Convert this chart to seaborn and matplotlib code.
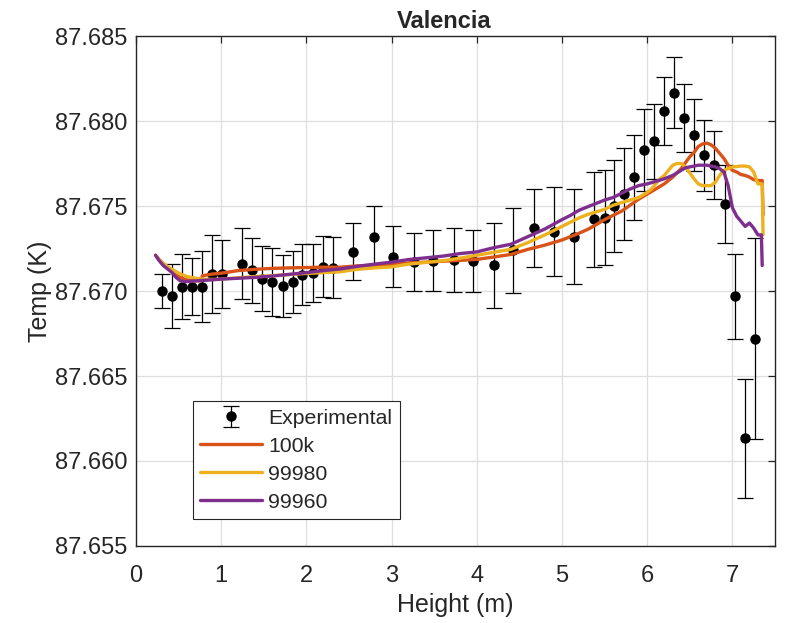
import numpy as np
import pandas as pd
import matplotlib
matplotlib.use("Agg")
import matplotlib.pyplot as plt
import seaborn as sns

# ---- Experimental data ----
exp_x = [0.31, 0.42, 0.54, 0.66, 0.78, 0.89, 1.01, 1.25, 1.36, 1.48, 1.60, 1.72,
         1.84, 1.95, 2.08, 2.20, 2.31, 2.55, 2.79, 3.02, 3.26, 3.49, 3.73, 3.96,
         4.20, 4.43, 4.67, 4.91, 5.14, 5.38, 5.50, 5.61, 5.73, 5.85, 5.96, 6.08,
         6.20, 6.32, 6.43, 6.55, 6.67, 6.78, 6.91, 7.03, 7.15, 7.27]
exp_y = [87.6700, 87.6697, 87.67026, 87.67026, 87.67026, 87.67098, 87.67098, 87.67161,
         87.67122, 87.67073, 87.67053, 87.67030, 87.67053, 87.67095, 87.67105, 87.67142,
         87.67138, 87.67232, 87.67320, 87.67202, 87.67170, 87.67178, 87.67182, 87.67176,
         87.67151, 87.67240, 87.67369, 87.67350, 87.67320, 87.67422, 87.67431, 87.67500,
         87.67572, 87.67670, 87.67830, 87.67880, 87.68059, 87.68167, 87.68018, 87.67918,
         87.67798, 87.67739, 87.67510, 87.66970, 87.66134, 87.66720]
exp_err = [0.0010, 0.0019, 0.0019, 0.0017, 0.0021, 0.0023, 0.0020, 0.0021,
           0.0019, 0.0019, 0.0020, 0.0018, 0.0018, 0.0018, 0.0017, 0.0018,
           0.0018, 0.0017, 0.0018, 0.0018, 0.0017, 0.0018, 0.0019, 0.0018,
           0.0025, 0.0025, 0.0023, 0.0026, 0.0028, 0.0028, 0.0028, 0.0027,
           0.0027, 0.0025, 0.0024, 0.0022, 0.0020, 0.0021, 0.0020, 0.0021,
           0.0021, 0.0020, 0.0023, 0.0025, 0.0035, 0.0059]

# ---- Simulated series ----
x_100k = [0.23, 0.28, 0.33, 0.38, 0.45, 0.52, 0.60, 0.70, 0.76, 0.78, 0.90, 1.00, 1.20,
          1.40, 1.60, 1.80, 2.00, 2.20, 2.40, 2.60, 2.80, 3.00, 3.20, 3.40, 3.60,
          3.80, 4.00, 4.20, 4.40, 4.60, 4.80, 5.00, 5.10, 5.20, 5.30, 5.40, 5.50,
          5.60, 5.70, 5.80, 5.90, 6.00, 6.10, 6.20, 6.30, 6.40, 6.45, 6.50, 6.55,
          6.60, 6.65, 6.70, 6.75, 6.80, 6.85, 6.90, 6.95, 7.00, 7.05, 7.10, 7.15,
          7.20, 7.25, 7.30, 7.35, 7.36]
y_100k = [87.6721, 87.6718, 87.6715, 87.6713, 87.6710, 87.6708, 87.67065, 87.6706, 87.6706,
          87.6709, 87.6710, 87.67105, 87.6712, 87.67128, 87.67133, 87.67136, 87.67138,
          87.6714, 87.6714, 87.67148, 87.67152, 87.67155, 87.67165, 87.6717, 87.67175,
          87.6718, 87.67186, 87.6720, 87.67215, 87.67245, 87.6727, 87.6730, 87.6732,
          87.6734, 87.67362, 87.6739, 87.6742, 87.67445, 87.6747, 87.67505, 87.6754,
          87.6757, 87.6760, 87.6763, 87.6767, 87.6772, 87.67755, 87.6779, 87.67815,
          87.6785, 87.67865, 87.6787, 87.6786, 87.6784, 87.6781, 87.6778, 87.6774,
          87.6771, 87.6770, 87.67685, 87.6768, 87.6767, 87.67655, 87.6765, 87.6765, 87.6745]

x_99980 = [0.23, 0.28, 0.33, 0.38, 0.45, 0.52, 0.60, 0.70, 0.78, 0.90, 1.00, 1.20,
           1.40, 1.60, 1.80, 2.00, 2.20, 2.40, 2.60, 2.80, 3.00, 3.20, 3.40, 3.60,
           3.80, 4.00, 4.20, 4.40, 4.60, 4.80, 5.00, 5.10, 5.20, 5.30, 5.40, 5.50,
           5.60, 5.70, 5.80, 5.90, 6.00, 6.05, 6.10, 6.15, 6.20, 6.25, 6.30, 6.35,
           6.40, 6.45, 6.50, 6.55, 6.60, 6.65, 6.70, 6.75, 6.80, 6.85, 6.90, 6.95,
           7.00, 7.05, 7.10, 7.15, 7.20, 7.25, 7.30, 7.35, 7.36]
y_99980 = [87.6721, 87.6718, 87.6716, 87.6714, 87.6712, 87.6710, 87.67085, 87.67075,
           87.6707, 87.67068, 87.6707, 87.67078, 87.67085, 87.6709, 87.67097, 87.67103,
           87.67108, 87.67113, 87.67128, 87.67136, 87.67142, 87.67158, 87.67168, 87.67178,
           87.67193, 87.6721, 87.67228, 87.67245, 87.67285, 87.6733, 87.6738, 87.67405,
           87.6743, 87.6745, 87.67465, 87.6748, 87.67505, 87.6752, 87.67535, 87.6755,
           87.6758, 87.6760, 87.6763, 87.6766, 87.6768, 87.6771, 87.6774, 87.6775,
           87.6775, 87.6773, 87.67695, 87.6766, 87.6763, 87.6762, 87.6762, 87.6762,
           87.6764, 87.6768, 87.6771, 87.6772, 87.6773, 87.67732, 87.67735, 87.67735,
           87.6773, 87.6770, 87.6763, 87.6763, 87.6733]

x_99960 = [0.23, 0.27, 0.32, 0.37, 0.42, 0.47, 0.52, 0.57, 0.78, 0.90, 1.00, 1.20,
           1.40, 1.60, 1.80, 2.00, 2.20, 2.40, 2.60, 2.80, 3.00, 3.20, 3.40, 3.60,
           3.80, 4.00, 4.20, 4.40, 4.60, 4.80, 5.00, 5.10, 5.20, 5.30, 5.40, 5.50,
           5.60, 5.70, 5.80, 5.90, 6.00, 6.10, 6.20, 6.30, 6.40, 6.45, 6.50, 6.55,
           6.60, 6.65, 6.70, 6.75, 6.80, 6.85, 6.90, 6.95, 7.00, 7.05, 7.10, 7.15,
           7.20, 7.25, 7.30, 7.34, 7.35]
y_99960 = [87.6721, 87.6718, 87.6715, 87.6713, 87.6711, 87.6708, 87.6706, 87.67055,
           87.67062, 87.67066, 87.6707, 87.67075, 87.6708, 87.67088, 87.67098, 87.67108,
           87.6712, 87.6713, 87.67145, 87.67158, 87.6717, 87.67185, 87.67195, 87.67205,
           87.6722, 87.6723, 87.67255, 87.67275, 87.6732, 87.67365, 87.6742, 87.67445,
           87.67475, 87.67495, 87.67515, 87.67535, 87.6755, 87.67575, 87.6760, 87.6762,
           87.6763, 87.67645, 87.6766, 87.6768, 87.6771, 87.67725, 87.6773, 87.67735,
           87.6774, 87.6774, 87.6774, 87.67735, 87.6773, 87.6772, 87.6770, 87.6762,
           87.6749, 87.6744, 87.6741, 87.6738, 87.6740, 87.6737, 87.6733, 87.6733, 87.6715]

series_names = ["100k", "99980", "99960"]
series_colors = ["#D95319", "#EDB120", "#7E2F8E"]
x_ticks = [0, 1, 2, 3, 4, 5, 6, 7]
y_ticks = [87.655, 87.660, 87.665, 87.670, 87.675, 87.680, 87.685]

sns.set_style("white")
plt.rcParams["font.family"] = ["Liberation Sans", "DejaVu Sans"]

fig = plt.figure(figsize=(7.86, 6.23), dpi=100)
ax = fig.add_axes([0.1730, 0.1236, 0.8130, 0.8186])

eb = ax.errorbar(exp_x, exp_y, yerr=exp_err, fmt="o", color="black", ms=6.5,
                 capsize=6, elinewidth=0.9, capthick=0.9, zorder=3, label="Experimental")

data = [(x_100k, y_100k), (x_99980, y_99980), (x_99960, y_99960)]
for (xs, ys), name, col in zip(data, series_names, series_colors):
    df = pd.DataFrame({"x": xs, "y": ys})
    sns.lineplot(data=df, x="x", y="y", ax=ax, color=col, linewidth=2.4,
                 sort=False, label=name, zorder=4, legend=False)

ax.set_xlim(0, 7.5)
ax.set_ylim(87.655, 87.685)
ax.set_xticks(x_ticks)
ax.set_yticks(y_ticks)
ax.set_yticklabels([f"{v:.3f}" for v in y_ticks])
ax.grid(True, color="#dedede", linewidth=0.9, zorder=0)
ax.set_axisbelow(True)
ax.tick_params(direction="in", top=True, right=True, length=5, width=0.9,
               labelsize=17, colors="#262626")
ax.tick_params(axis="x", pad=14)
ax.tick_params(axis="y", pad=6)
for sp in ax.spines.values():
    sp.set_color("#262626")
    sp.set_linewidth(1.0)

ax.set_xlabel("Height (m)", fontsize=18, color="#262626", labelpad=4)
ax.set_ylabel("Temp (K)", fontsize=18, color="#262626", labelpad=2)
ax.set_title("Valencia", fontsize=17, fontweight="bold", pad=6, x=0.483)

handles, labels = ax.get_legend_handles_labels()
order = ["Experimental"] + series_names
hmap = dict(zip(labels, handles))
leg = ax.legend([hmap[l] for l in order], order, loc="lower left",
                bbox_to_anchor=(0.089, 0.053), fontsize=15.3, frameon=True,
                fancybox=False, edgecolor="#262626", framealpha=1,
                handlelength=2.9, handletextpad=0.3, borderpad=0.35,
                labelspacing=0.42, borderaxespad=0)
leg.get_frame().set_linewidth(0.8)

fig.savefig("out.png", dpi=100)
